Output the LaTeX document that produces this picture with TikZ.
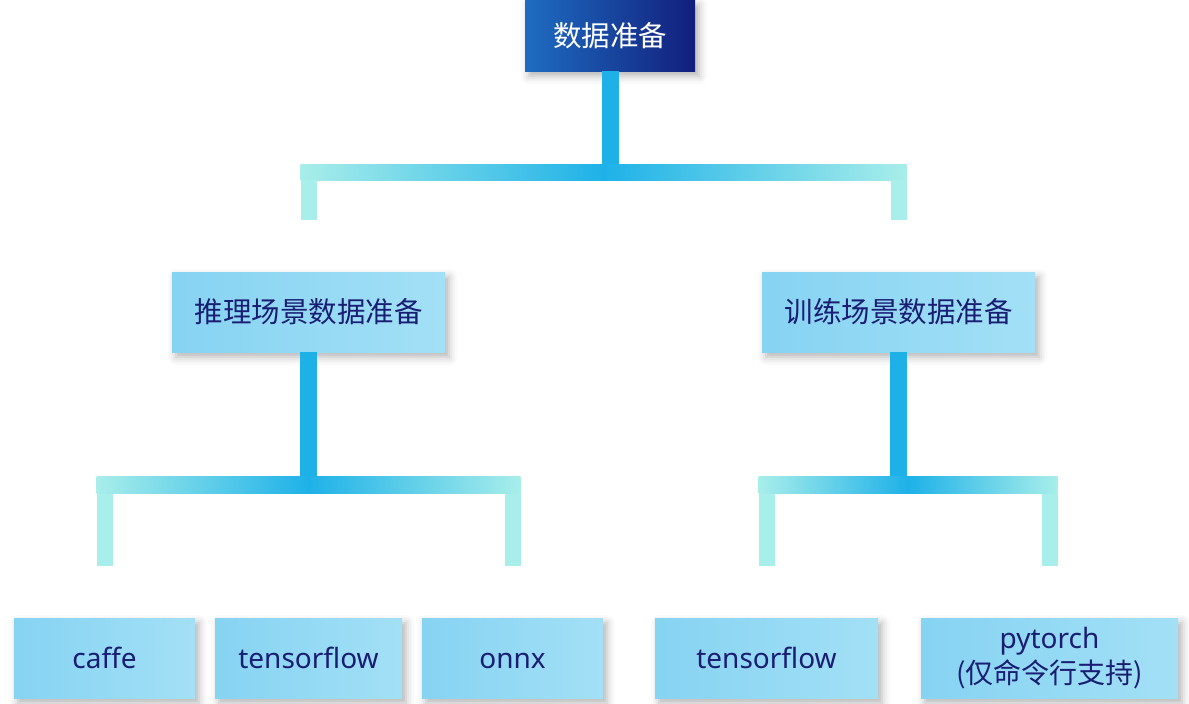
\documentclass[tikz,border=0pt]{standalone}
\usepackage{fontspec}
\setmainfont{Noto Sans}
\newfontfamily\cjk{Noto Sans CJK SC}
\usetikzlibrary{calc,shadows.blur}
\definecolor{topA}{HTML}{1E6DC2}
\definecolor{topB}{HTML}{121E7C}
\definecolor{boxA}{HTML}{86D3F2}
\definecolor{boxB}{HTML}{A3E0F6}
\definecolor{navy}{HTML}{1A1D74}
\definecolor{stemc}{HTML}{1EB1E8}
\definecolor{pale}{HTML}{A8EEEA}
\tikzset{
  boxshadow/.style={blur shadow={shadow xshift=4pt, shadow yshift=-5pt, shadow blur radius=8pt, shadow opacity=30}},
  rootbox/.style={boxshadow, left color=topA, right color=topB, minimum width=170pt, minimum height=71pt,
    inner sep=0pt, text=white, font=\cjk\fontsize{28.5}{34}\selectfont},
  lightbox/.style={boxshadow, left color=boxA, right color=boxB, minimum height=80pt,
    inner sep=0pt, text=navy, align=center, font=\fontsize{28}{35}\selectfont},
  oneline/.style={text height=24pt, text depth=4pt},
  stemline/.style={line width=17pt, draw=stemc},
  stub/.style={fill=pale},
  barshade/.style={left color=pale, right color=pale, middle color=stemc},
}
\begin{document}
\begin{tikzpicture}[x=1pt,y=-1pt]
\useasboundingbox (0,0) rectangle (1189,704);
% nodes
\node[rootbox] (root) at (610,35.5) {数据准备};
\node[lightbox, minimum width=273pt, font=\cjk\fontsize{28.5}{34}\selectfont] (inf) at (308.5,312) {推理场景数据准备};
\node[lightbox, minimum width=273pt, font=\cjk\fontsize{28.5}{34}\selectfont] (tra) at (898.5,312) {训练场景数据准备};
\node[lightbox, oneline, minimum width=181pt] (caffe) at (104.5,658) {caffe};
\node[lightbox, oneline, minimum width=187pt] (tf1) at (308.5,658) {tensorflow};
\node[lightbox, oneline, minimum width=181pt] (onnx) at (512.5,658) {onnx};
\node[lightbox, oneline, minimum width=223pt] (tf2) at (766.5,658) {tensorflow};
\node[lightbox, minimum width=257pt] (pt) at (1049.5,658) {pytorch\\{\cjk (仅命令行支持)}};
% junction coordinates
\coordinate (bar1) at (603,172);
\coordinate (bar2) at (308.5,485);
\coordinate (bar3) at (898,485);
% level 1
\draw[stemline] (root.south) -- (root.south |- bar1);
\shade[barshade] ($(inf.north |- bar1)+(-8,-8)$) rectangle ($(tra.north |- bar1)+(8,8)$);
\fill[stub] ($(inf.north |- bar1)+(-8,8)$) rectangle ($(inf.north)+(8,-52)$);
\fill[stub] ($(tra.north |- bar1)+(-8,8)$) rectangle ($(tra.north)+(8,-52)$);
% level 2 left
\draw[stemline] (inf.south) -- (inf.south |- bar2);
\shade[barshade] ($(caffe.north |- bar2)+(-8,-8.5)$) rectangle ($(onnx.north |- bar2)+(8,8.5)$);
\fill[stub] ($(caffe.north |- bar2)+(-8,8.5)$) rectangle ($(caffe.north)+(8,-52)$);
\fill[stub] ($(onnx.north |- bar2)+(-8,8.5)$) rectangle ($(onnx.north)+(8,-52)$);
% level 2 right
\draw[stemline] (tra.south) -- (tra.south |- bar3);
\shade[barshade] ($(tf2.north |- bar3)+(-8,-8.5)$) rectangle ($(pt.north |- bar3)+(8,8.5)$);
\fill[stub] ($(tf2.north |- bar3)+(-8,8.5)$) rectangle ($(tf2.north)+(8,-52)$);
\fill[stub] ($(pt.north |- bar3)+(-8,8.5)$) rectangle ($(pt.north)+(8,-52)$);
\end{tikzpicture}
\end{document}
